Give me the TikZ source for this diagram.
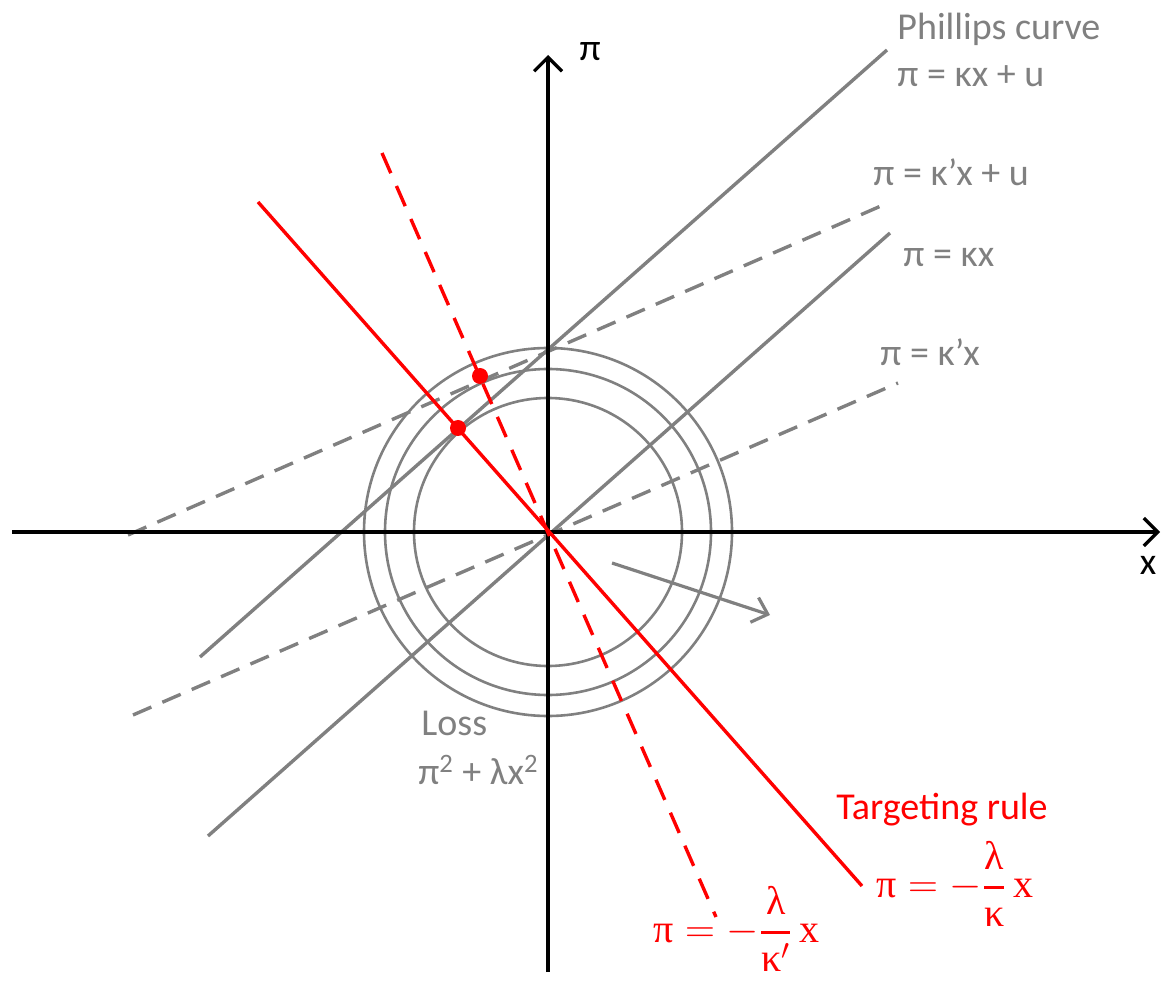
\documentclass[tikz,border=0pt]{standalone}
\usepackage{amsmath}
\usepackage{fontspec}
\newfontfamily\calib{Carlito}
\newfontfamily\mserif{Liberation Serif}
\usetikzlibrary{arrows.meta}
\definecolor{lgray}{RGB}{128,128,128}
\definecolor{lred}{RGB}{255,0,0}
\tikzset{
  axisline/.style={black,line width=2pt,-{Straight Barb[length=7pt,width=14pt,line width=1.6pt]}},
  pline/.style={lgray,line width=1.7pt},
  pdash/.style={lgray,line width=1.7pt,dash pattern=on 10pt off 6pt},
  rline/.style={lred,line width=1.7pt},
  rdash/.style={lred,line width=1.7pt,dash pattern=on 11pt off 7pt},
  loss/.style={lgray,line width=1.3pt},
  glabel/.style={lgray,inner sep=0pt,anchor=west,font=\calib\fontsize{19}{23}\selectfont},
  rlabel/.style={lred,inner sep=0pt,anchor=west,font=\calib\fontsize{19}{23}\selectfont},
  rmath/.style={lred,inner sep=0pt,anchor=west,font=\fontsize{20}{24}\selectfont},
  dot/.style={circle,fill=lred,inner sep=0pt,minimum size=8pt}
}
\newcommand{\ms}[1]{\text{\mserif #1}}
\newcommand{\bfr}[2]{\genfrac{}{}{1.5pt}{0}{#1}{#2}}
\begin{document}
\begin{tikzpicture}[x=0.5pt,y=-0.5pt]
\useasboundingbox (0,0) rectangle (1161,983);
% coordinates
\coordinate (O) at (548,532);
\coordinate (xl) at (12,532);
\coordinate (xr) at (1160,532);
\coordinate (yb) at (548,972);
\coordinate (yt) at (548,55);
% loss circles
\draw[loss] (O) circle[radius=67pt];
\draw[loss] (O) circle[radius=81.5pt];
\draw[loss] (O) circle[radius=92pt];
% Phillips curves
\coordinate (pc1) at (200,657); \coordinate (pc2) at (887,50);
\coordinate (pk1) at (208,836); \coordinate (pk2) at (890,233);
\coordinate (pu1) at (128,535); \coordinate (pu2) at (890,202);
\coordinate (pp1) at (133,715); \coordinate (pp2) at (898,383);
\draw[pline] (pc1) -- (pc2);
\draw[pline] (pk1) -- (pk2);
\draw[pdash] (pu1) -- (pu2);
\draw[pdash] (pp1) -- (pp2);
% axes
\draw[axisline] (xl) -- (xr);
\draw[axisline] (yb) -- (yt);
% targeting rules
\coordinate (r1) at (258,202); \coordinate (r2) at (862,886);
\coordinate (d1) at (382,153); \coordinate (d2) at (716,917);
\draw[rline] (r1) -- (r2);
\draw[rdash] (d1) -- (d2);
\node[dot] (dotA) at (458,428) {};
\node[dot] (dotB) at (480,376) {};
% gray arrow
\coordinate (a1) at (612,563); \coordinate (a2) at (770,615);
\draw[lgray,line width=1.6pt,-{Straight Barb[length=7pt,width=13pt,line width=1.6pt]}] (a1) -- (a2);
% labels
\node[inner sep=0pt,font=\calib\fontsize{19}{23}\selectfont] (lpi) at (590,52) {π};
\node[inner sep=0pt,font=\calib\fontsize{19}{23}\selectfont] (lx) at (1148,565) {x};
\node[glabel] (t1) at (897,29) {Phillips curve};
\node[glabel] (t2) at (897,76) {π = κx + u};
\node[glabel] (t3) at (873,172) {π = κ’x + u};
\node[glabel] (t4) at (903,257) {π = κx};
\node[glabel] (t5) at (880,352) {π = κ’x};
\node[glabel] (t6) at (421,723) {Loss};
\node[glabel] (t7) at (418,770) {π\textsuperscript{2} + λx\textsuperscript{2}};
\node[rlabel] (t8) at (836,810) {Targeting rule};
\node[rmath] (t9) at (876,884) {$\ms{π} = -\bfr{\ms{λ}}{\ms{κ}}\,\ms{x}$};
\node[rmath] (t10) at (653,929) {$\ms{π} = -\bfr{\ms{λ}}{\ms{κ}'}\,\ms{x}$};
\end{tikzpicture}
\end{document}
